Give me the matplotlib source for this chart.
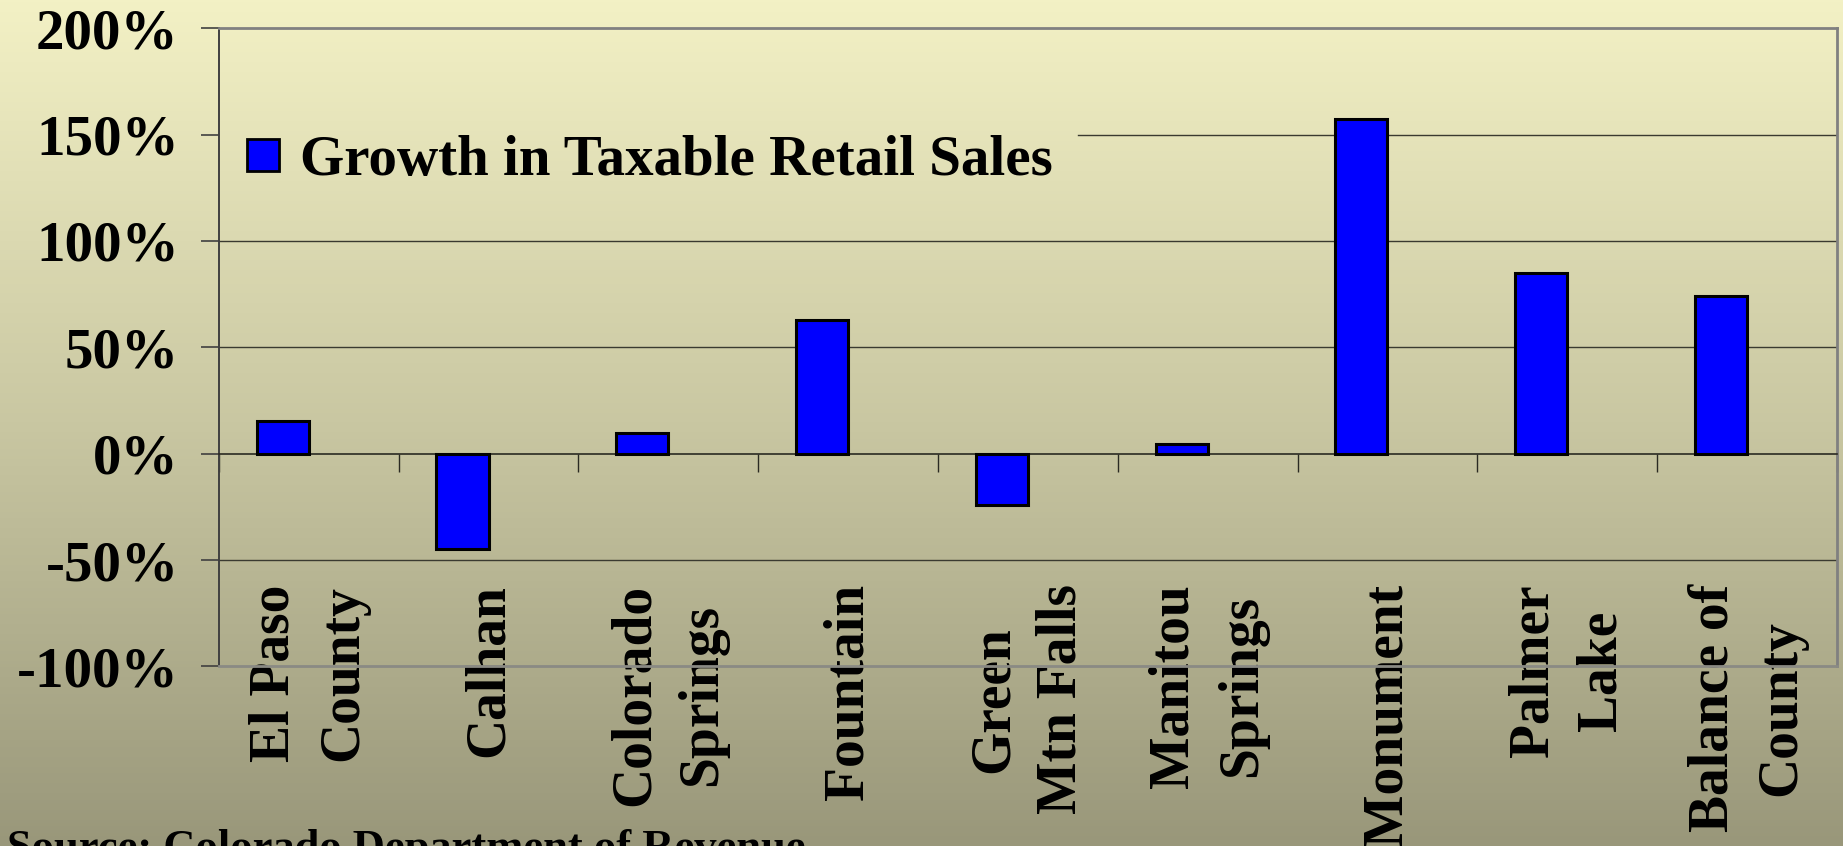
import matplotlib

matplotlib.use("Agg")

import matplotlib.pyplot as plt
import numpy as np
from matplotlib.colors import LinearSegmentedColormap
from matplotlib.lines import Line2D

plt.rcParams["font.family"] = ["Liberation Serif", "DejaVu Serif"]
plt.rcParams["font.weight"] = "bold"

places = [
    "El Paso\nCounty",
    "Calhan",
    "Colorado\nSprings",
    "Fountain",
    "Green\nMtn Falls",
    "Manitou\nSprings",
    "Monument",
    "Palmer\nLake",
    "Balance of\nCounty",
]
growth_pct = [15.4, -44.7, 9.9, 62.8, -24.0, 4.4, 157.4, 84.8, 74.1]
y_ticks = [-100, -50, 0, 50, 100, 150, 200]
y_tick_labels = [f"{v}%" for v in y_ticks]
series_label = "Growth in Taxable Retail Sales"
source_note = "Source: Colorado Department of Revenue"


def main() -> None:
    fig = plt.figure(figsize=(18.43, 8.46), dpi=100)

    # gradient backdrop over the whole slide
    bg = fig.add_axes([0, 0, 1, 1], zorder=-10)
    cmap = LinearSegmentedColormap.from_list(
        "slide", ["#f3f1c5", "#c9c7a2", "#99977a"]
    )
    grad = np.linspace(0, 1, 256).reshape(-1, 1)
    bg.imshow(grad, aspect="auto", cmap=cmap, extent=[0, 1, 0, 1])
    bg.set_axis_off()

    ax = fig.add_axes([0.1188, 0.2123, 0.8779, 0.7543])
    ax.set_facecolor("none")

    x = np.arange(len(places))
    ax.bar(
        x,
        growth_pct,
        width=-0.29,
        align="edge",
        color="#0000ff",
        edgecolor="black",
        linewidth=2.2,
        zorder=3,
    )

    ax.set_xlim(-0.5, len(places) - 0.5)
    ax.set_ylim(-100, 200)

    # horizontal gridlines; the 150% one stops short where the legend sits
    for v in [-50, 50, 100]:
        ax.axhline(v, color="#3a3a30", linewidth=1.0, zorder=1)
    ax.axhline(150, xmin=0.531, color="#3a3a30", linewidth=1.0, zorder=1)

    ax.spines["bottom"].set_position(("data", 0))
    ax.spines["bottom"].set_color("#2a2a22")
    ax.spines["bottom"].set_linewidth(1.2)
    ax.spines["left"].set_color("#404040")
    ax.spines["left"].set_linewidth(1.4)
    for side in ["top", "right"]:
        ax.spines[side].set_color("#808080")
        ax.spines[side].set_linewidth(2.0)
    ax.axhline(-100, color="#8a8a84", linewidth=2.0, zorder=3, clip_on=False)

    ax.set_yticks(y_ticks, y_tick_labels)
    ax.tick_params(
        axis="y", direction="out", length=13, width=1.2, color="#404040",
        pad=16, labelsize=41,
    )

    ax.set_xticks(np.arange(-0.5, len(places), 1.0))
    ax.set_xticklabels([])
    ax.tick_params(axis="x", which="major", direction="out", length=13,
                   width=1.0, color="#2a2a22")
    ax.set_xticks(x, places, minor=True)
    ax.tick_params(axis="x", which="minor", length=0, pad=94, labelsize=40,
                   labelrotation=90)
    for label in ax.get_xticklabels(minor=True):
        label.set_multialignment("center")
        label.set_linespacing(1.4)

    handle = Line2D([], [], marker="s", linestyle="none", markersize=23,
                    markerfacecolor="#0000ff", markeredgecolor="black",
                    markeredgewidth=2.0)
    ax.legend(
        [handle], [series_label],
        loc="upper left",
        bbox_to_anchor=(0.006, 0.855),
        fontsize=41,
        frameon=False,
        handlelength=0.7,
        handletextpad=0.3,
        borderpad=0.25,
        borderaxespad=0.0,
    )

    fig.text(0.004, -0.017, source_note, fontsize=32, ha="left",
             va="baseline")

    fig.savefig("out.png", dpi=100)
    plt.close(fig)


if __name__ == "__main__":
    main()
